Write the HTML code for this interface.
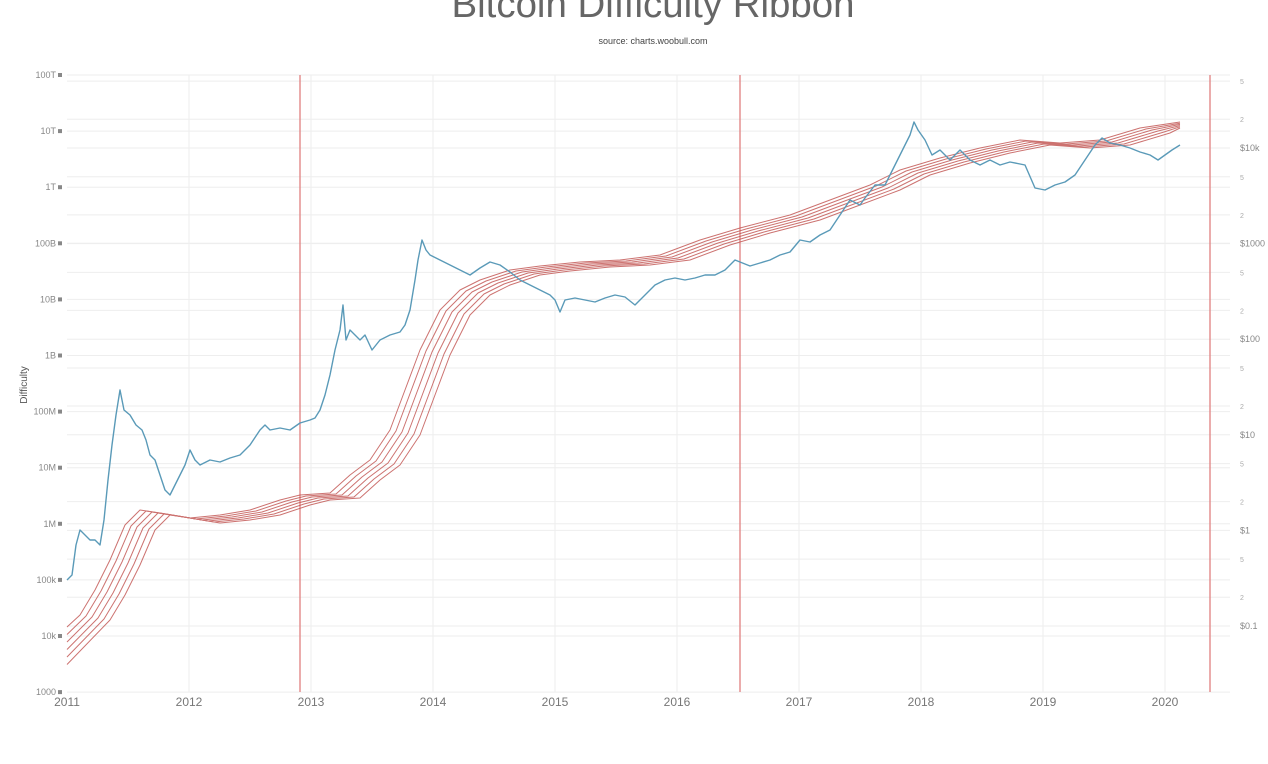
<!DOCTYPE html>
<html><head><meta charset="utf-8"><style>
html,body{margin:0;padding:0;background:#fff;}
svg{display:block;font-family:"Liberation Sans",sans-serif;}
</style></head><body>
<svg id="s" width="1268" height="764" viewBox="0 0 1268 764">
<text x="653" y="17" text-anchor="middle" font-size="38" fill="#666" textLength="403" lengthAdjust="spacingAndGlyphs">Bitcoin Difficulty Ribbon</text>
<text x="653" y="44" text-anchor="middle" font-size="9" fill="#444">source: charts.woobull.com</text>
<g id="grid" stroke="#eeeeee" stroke-width="1"></g>
<g id="labels" font-size="9" fill="#888"></g>
<line x1="300" y1="75" x2="300" y2="692" stroke="#e08080" stroke-width="1.3"/>
<line x1="740" y1="75" x2="740" y2="692" stroke="#e08080" stroke-width="1.3"/>
<line x1="1210" y1="75" x2="1210" y2="692" stroke="#e08080" stroke-width="1.3"/>
<g id="ribbon" fill="none" stroke="#c0504d" stroke-width="1" stroke-linejoin="round" opacity="0.8"></g>
<polyline id="price" fill="none" stroke="#5a9ab8" stroke-width="1.4" stroke-linejoin="round" points="67,580 72,575 76,545 80,530 85,535 90,540 95,540 100,545 104,520 108,480 112,445 116,415 120,390 124,410 130,415 136,425 142,430 146,440 150,455 155,460 160,475 165,490 170,495 175,485 180,475 185,465 190,450 195,460 200,465 210,460 220,462 230,458 240,455 250,445 260,430 265,425 270,430 280,428 290,430 300,423 310,420 315,418 320,410 325,395 330,375 335,350 340,330 343,305 346,340 350,330 355,335 360,340 365,335 372,350 380,340 390,335 400,332 405,325 410,310 415,280 418,260 422,240 426,250 430,255 440,260 450,265 460,270 470,275 480,268 490,262 500,265 510,272 520,280 530,285 540,290 550,295 555,300 560,312 565,300 575,298 585,300 595,302 605,298 615,295 625,297 635,305 645,295 655,285 665,280 675,278 685,280 695,278 705,275 715,275 725,270 735,260 740,262 750,266 760,263 770,260 780,255 790,252 800,240 810,242 820,235 830,230 840,215 850,200 860,205 865,198 875,185 885,185 895,165 905,145 910,135 914,122 918,130 925,140 932,155 940,150 950,160 960,150 970,160 980,165 990,160 1000,165 1010,162 1025,165 1035,188 1045,190 1055,185 1065,182 1075,175 1085,160 1095,145 1102,138 1110,143 1120,145 1130,148 1140,152 1150,155 1158,160 1165,155 1172,150 1180,145"/>
<text x="0" y="0" font-size="10" fill="#555" transform="translate(27,385) rotate(-90)" text-anchor="middle">Difficulty</text>
<g font-size="12" fill="#777" text-anchor="middle">
<text x="67" y="706">2011</text><text x="189" y="706">2012</text><text x="311" y="706">2013</text><text x="433" y="706">2014</text><text x="555" y="706">2015</text><text x="677" y="706">2016</text><text x="799" y="706">2017</text><text x="921" y="706">2018</text><text x="1043" y="706">2019</text><text x="1165" y="706">2020</text>
</g>
</svg>
<script>
var NS="http://www.w3.org/2000/svg";
function el(p,t,a,txt){var e=document.createElementNS(NS,t);for(var k in a)e.setAttribute(k,a[k]);if(txt)e.textContent=txt;p.appendChild(e);return e;}
var g=document.getElementById('grid'),L=document.getElementById('labels');
var left=["100T","10T","1T","100B","10B","1B","100M","10M","1M","100k","10k","1000"];
for(var i=0;i<12;i++){var y=75+i*56.1;el(g,'line',{x1:67,x2:1230,y1:y,y2:y});
el(L,'text',{x:56,y:y+3,'text-anchor':'end'},left[i]);el(L,'rect',{x:58,y:y-2,width:4,height:4,fill:'#888'});}
[189,311,433,555,677,799,921,1043,1165].forEach(function(x){el(g,'line',{x1:x,x2:x,y1:75,y2:692});});
var right=["$10k","$1000","$100","$10","$1","$0.1"];
for(var d=-1;d<6;d++){var base=148+d*95.6;
 if(d>=0){el(L,'text',{x:1240,y:base+3},right[d]);el(g,'line',{x1:67,x2:1230,y1:base,y2:base});}
 [[2,-0.30103],[5,-0.69897]].forEach(function(m){var y=base+m[1]*95.6;if(y>72&&y<694){el(g,'line',{x1:67,x2:1230,y1:y,y2:y});el(L,'text',{x:1240,y:y+3,'font-size':7,fill:'#aaa'},String(m[0]));}});
}
var pts=[[67,627],[80,615],[95,590],[110,560],[125,525],[140,510],[160,513],[190,518],[220,515],[250,510],[280,500],[300,495],[330,493],[350,475],[370,460],[390,430],[405,390],[420,350],[440,310],[460,290],[480,280],[510,270],[540,266],[580,262],[620,260],[660,255],[700,240],[740,228],[790,215],[830,200],[870,185],[900,170],[940,158],[980,148],[1020,140],[1060,143],[1100,140],[1140,128],[1180,122]];
var R=document.getElementById('ribbon');
for(var k=0;k<6;k++){var s=[[67,627+k*7.5]];var off=k*6;
 pts.forEach(function(p,j){if(j==0)return;var x=p[0]+off;if(x<=1180)s.push([x,p[1]+k*1]);});
 s.push([1180,122+k*1.2]);
 el(R,'polyline',{points:s.map(function(p){return p.join(',')}).join(' ')});}
</script>
</body></html>
